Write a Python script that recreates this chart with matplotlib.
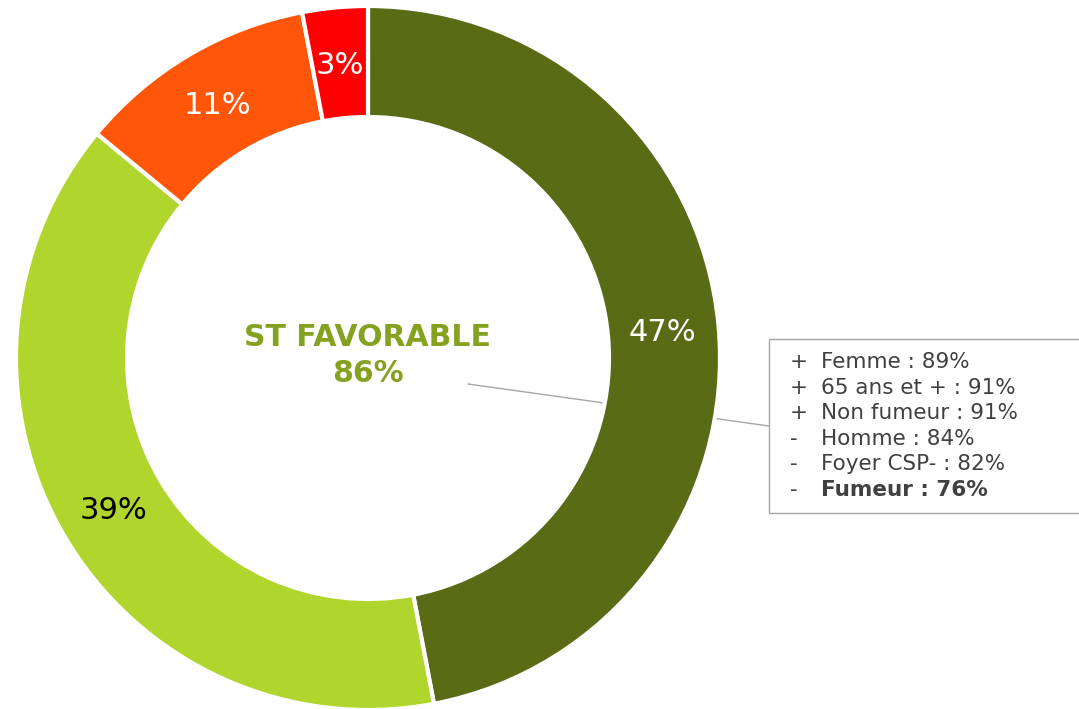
import matplotlib
matplotlib.use("Agg")
import matplotlib.pyplot as plt
from matplotlib.patches import Rectangle
import numpy as np

values = [47, 39, 11, 3]
labels = ["47%", "39%", "11%", "3%"]
colors = ["#5A6B16", "#B0D52D", "#FF560A", "#FF0000"]
label_colors = ["white", "black", "white", "white"]
center_title = "ST FAVORABLE"
center_value = "86%"
signs = ["+", "+", "+", "-", "-", "-"]
details = ["Femme : 89%", "65 ans et + : 91%", "Non fumeur : 91%",
           "Homme : 84%", "Foyer CSP- : 82%", "Fumeur : 76%"]
bold_flags = [False, False, False, False, False, True]

W, H = 1079, 709
fig = plt.figure(figsize=(W / 100, H / 100), dpi=100)
ax = fig.add_axes([0, 0, 1, 1])

def Y(y):
    return H - y

cx, cy, R = 368, 358, 352
# leader line (behind the ring)
ax.plot([468, 769], [Y(384), Y(426)], color="#A6A6A6", lw=1, zorder=0)

wedges, texts = ax.pie(values, radius=R, center=(cx, Y(cy)), colors=colors,
                       startangle=90, counterclock=False,
                       wedgeprops=dict(width=111, edgecolor="white", linewidth=3),
                       frame=True)
ax.set_xlim(0, W)
ax.set_ylim(0, H)
ax.set_aspect("equal")
ax.axis("off")

total = sum(values)
start = 90.0
r_lab = 296
for v, lab, lc in zip(values, labels, label_colors):
    ang = start - v / total * 360 / 2
    start -= v / total * 360
    x = cx + r_lab * np.cos(np.radians(ang))
    y = Y(cy) + r_lab * np.sin(np.radians(ang)) - 2
    ax.text(x, y, lab, ha="center", va="center", color=lc, fontsize=22,
            zorder=5)

ax.text(cx, Y(338), center_title, ha="center", va="center", color="#84A21F",
        fontsize=21.5, fontweight="bold", zorder=5)
ax.text(cx, Y(373), center_value, ha="center", va="center", color="#84A21F",
        fontsize=21.5, fontweight="bold", zorder=5)

ax.add_patch(Rectangle((769, Y(513)), 330, 174, facecolor="white",
                       edgecolor="#A6A6A6", lw=1, zorder=4))
for i, (s, d, b) in enumerate(zip(signs, details, bold_flags)):
    y = Y(362 + i * 25.6)
    ax.text(790, y, s, ha="left", va="center", fontsize=15.5, color="#404040", zorder=5)
    ax.text(821, y, d, ha="left", va="center", fontsize=15.5, color="#404040",
            fontweight="bold" if b else "normal", zorder=5)

fig.savefig("out.png", dpi=100)
